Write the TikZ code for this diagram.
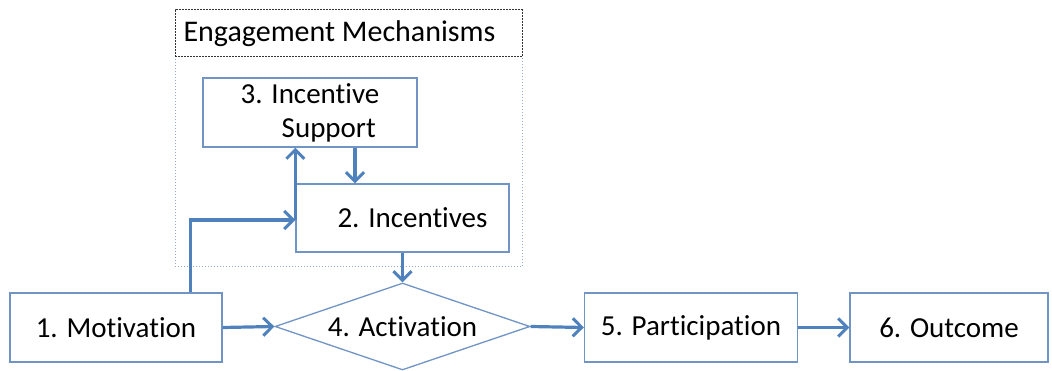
\documentclass[tikz,border=0pt]{standalone}
\usepackage{fontspec}
\setmainfont{Carlito}[Ligatures=NoCommon]
\usetikzlibrary{arrows.meta,shapes.geometric}
\definecolor{boxblue}{HTML}{7094C4}
\definecolor{arrblue}{HTML}{4F81BD}
\definecolor{dotblue}{HTML}{95A9C6}
\tikzset{
  box/.style={draw=boxblue, line width=1.3pt, fill=white, inner sep=0pt, font=\fontsize{29}{34}\selectfont},
  flow/.style={draw=arrblue, line width=3.2pt, -{Straight Barb[length=9pt,width=18pt,line width=3pt]}},
  dia/.style={diamond, aspect=2.92, draw=boxblue, line width=1.3pt, fill=white, inner sep=0pt, font=\fontsize{29}{34}\selectfont}
}
\begin{document}
\begin{tikzpicture}[x=1pt,y=-1pt]
\useasboundingbox (0,0) rectangle (1052,371);
% group frame
\node[draw=dotblue, dotted, line width=1pt, minimum width=347pt, minimum height=210pt, inner sep=0pt] (grp) at (348.5,162) {};
\node[draw=black!80, dashed, dash pattern=on 2pt off 1pt, line width=1pt, minimum width=347pt, minimum height=47pt, inner sep=0pt, font=\fontsize{30}{34}\selectfont] (title) at (348.5,33.5) {\hspace*{-18pt}Engagement Mechanisms};
% nodes
\node[box, minimum width=214pt, minimum height=69pt, align=left] (n3) at (310,112.5) {3. Incentive\\\hspace*{41pt}Support};
\node[box, minimum width=213pt, minimum height=68pt] (n2) at (402.5,218) {\hspace*{20pt}2. Incentives};
\node[box, minimum width=212pt, minimum height=69pt] (n1) at (116,327.5) {1. Motivation};
\node[dia, minimum width=255pt, minimum height=87pt] (n4) at (402.5,326.5) {4. Activation};
\node[box, minimum width=213pt, minimum height=69pt] (n5) at (691,327.5) {5. Participation};
\node[box, minimum width=198pt, minimum height=69pt] (n6) at (949,327.5) {6. Outcome};
% connectors
\coordinate (c1) at (190.7,220);
\draw[flow] (n3.south -| 355,0) -- (n2.north -| 355,0);
\draw[flow] (n2.south -| n4.north) -- (n4.north);
\draw[flow] (n1.north -| c1) -- (c1) -- (n2.west |- c1);
\draw[flow] (n2.west |- c1) -- (n3.south -| n2.west);
\draw[flow] (n1.east) -- (n4.west);
\draw[flow] (n4.east) -- (n5.west);
\draw[flow] (n5.east) -- (n6.west);
\end{tikzpicture}
\end{document}
